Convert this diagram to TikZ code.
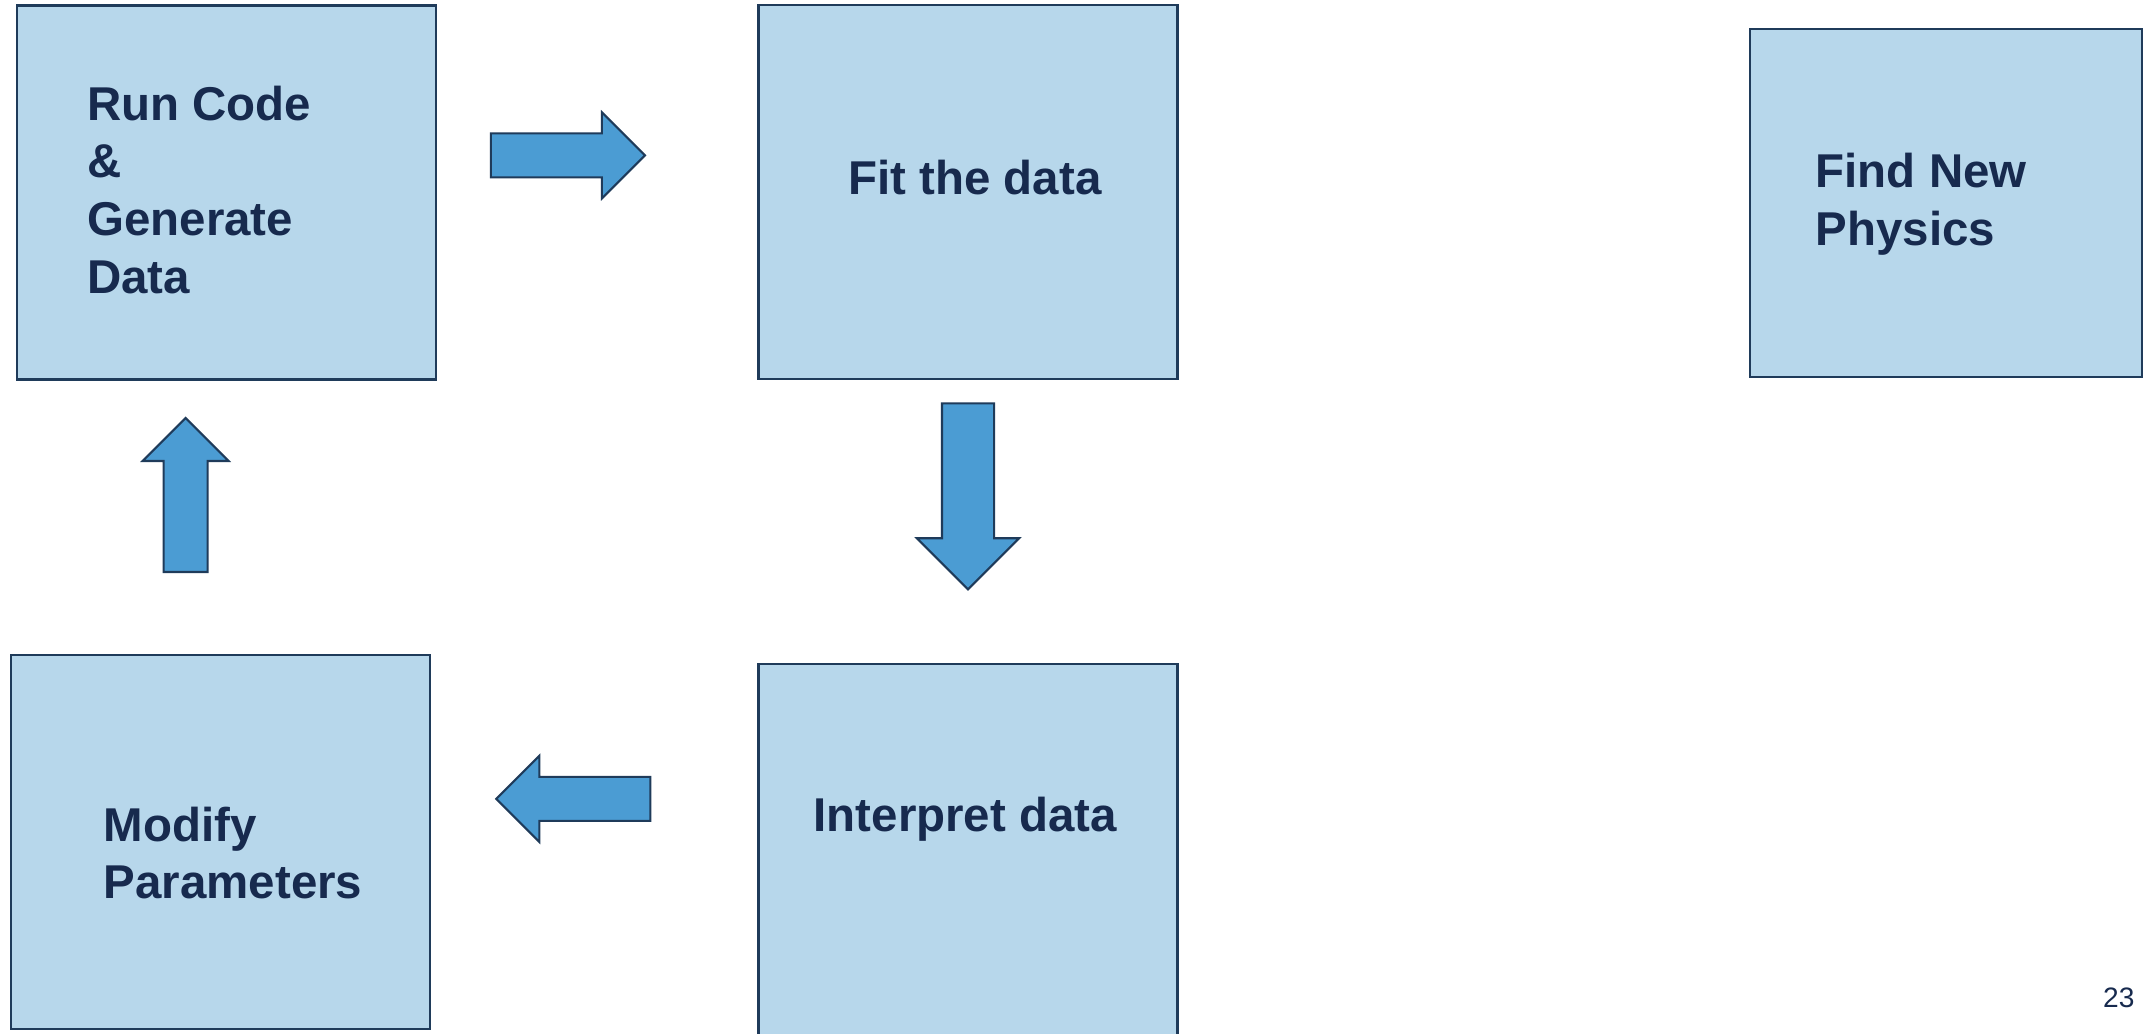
\documentclass[tikz,border=0pt]{standalone}
\usepackage{fontspec}
\setmainfont{Liberation Sans}
\usetikzlibrary{positioning, shapes.arrows}
\definecolor{boxfill}{HTML}{B7D7EB}
\definecolor{boxline}{HTML}{1F3B5A}
\definecolor{arrfill}{HTML}{4B9CD3}
\definecolor{txtblue}{HTML}{172A4E}

\begin{document}
\begin{tikzpicture}[x=0.01375cm, y=-0.01375cm,
  stage/.style={draw=boxline, fill=boxfill, line width=0.6pt, minimum width=4.19cm, minimum height=3.74cm, inner sep=0pt},
  lbl/.style={text=txtblue, font=\fontsize{13.5}{16.4}\selectfont\bfseries, align=left, inner sep=0pt},
  blockarrow/.style={single arrow, draw=boxline, fill=arrfill, line width=0.6pt, inner sep=0.21cm, single arrow head extend=0.21cm, minimum height=1.54cm}]
  \useasboundingbox (0,0) rectangle (1568,752);
  % the five stages
  \node[stage] (run) at (164.5,140) {};
  \node[stage] (fit) at (704,139.5) {};
  \node[stage] (interp) at (704,619) {};
  \node[stage] (modify) at (160.5,612.5) {};
  \node[stage, minimum width=3.92cm, minimum height=3.48cm] (find) at (1415.5,147.5) {};
  % texts
  \node[lbl, anchor=west] (runlbl) at (63,138) {Run Code\\\&\\Generate\\Data};
  \node[lbl] (fitlbl) at (709,129) {Fit the data};
  \node[lbl] (intlbl) at (702,596) {Interpret data};
  \node[lbl, anchor=west] (modlbl) at (75,620.5) {Modify\\Parameters};
  \node[lbl, anchor=west] (findlbl) at (1320,148.5) {Find New\\Physics};
  % block arrows
  \node[blockarrow] (toright) at (405,113) {};
  \node[blockarrow, rotate=-90, inner sep=0.25cm, single arrow head extend=0.25cm, minimum height=1.86cm] (todown) at (704,351.5) {};
  \node[blockarrow, rotate=180] (toleft) at (425,581) {};
  \node[blockarrow, rotate=90] (toup) at (135,368) {};
  \node[text=txtblue, font=\fontsize{8}{9.6}\selectfont, inner sep=0pt] (pagenum) at (1541,726) {23};
\end{tikzpicture}
\end{document}
